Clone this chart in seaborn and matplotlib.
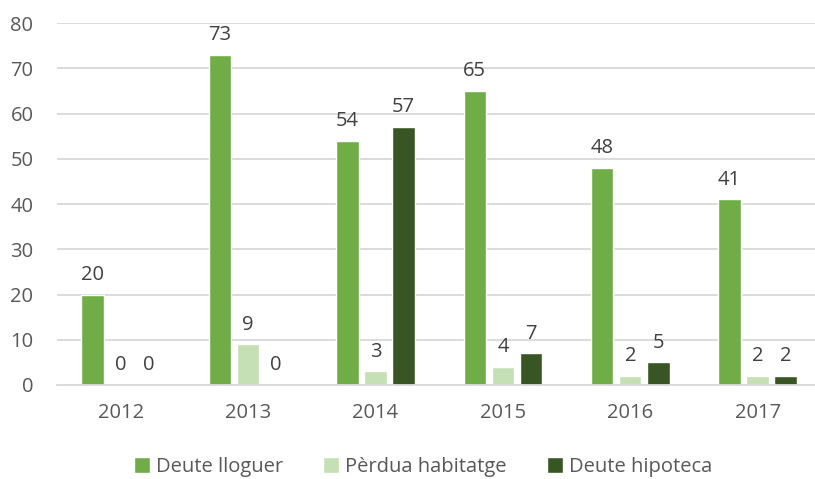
import matplotlib
matplotlib.use("Agg")
import matplotlib.pyplot as plt
import seaborn as sns
import pandas as pd

years = ["2012", "2013", "2014", "2015", "2016", "2017"]
series_names = ["Deute lloguer", "Pèrdua habitatge", "Deute hipoteca"]
deute_lloguer = [20, 73, 54, 65, 48, 41]
perdua_habitatge = [0, 9, 3, 4, 2, 2]
deute_hipoteca = [0, 0, 57, 7, 5, 2]
colors = ["#70AD47", "#C5E0B4", "#375623"]

rows = []
for name, vals in zip(series_names, [deute_lloguer, perdua_habitatge, deute_hipoteca]):
    for y, v in zip(years, vals):
        rows.append({"Any": y, "Sèrie": name, "Valor": v})
df = pd.DataFrame(rows)

sns.set_theme(style="white")
plt.rcParams["font.family"] = ["Open Sans", "DejaVu Sans"]

fig = plt.figure(figsize=(8.15, 4.79), dpi=100)
ax = fig.add_axes([57 / 815, 94 / 479, 1 - 57 / 815, (385 - 23) / 479])

sns.barplot(data=df, x="Any", y="Valor", hue="Sèrie", hue_order=series_names,
            order=years, palette=colors, width=0.66, gap=0.2, ax=ax,
            saturation=1, errorbar=None, legend=True)

for cont in ax.containers:
    ax.bar_label(cont, labels=[f"{int(v)}" for v in cont.datavalues],
                 padding=7, fontsize=14.5, color="#404040")

ax.set_ylim(0, 80)
ax.set_xlim(-0.5, 5.45)
ax.set_yticks(range(0, 81, 10))
ax.yaxis.grid(True, color="#d9d9d9", linewidth=1.3)
ax.set_axisbelow(True)
for s in ["top", "right", "left"]:
    ax.spines[s].set_visible(False)
ax.spines["bottom"].set_color("#d9d9d9")
ax.spines["bottom"].set_linewidth(1.3)
ax.tick_params(axis="both", length=0, labelsize=14.5, colors="#595959")
ax.tick_params(axis="x", pad=13)
ax.tick_params(axis="y", pad=17)
ax.set_xlabel("")
ax.set_ylabel("")

handles, labels = ax.get_legend_handles_labels()
ax.legend(handles, labels, loc="center", bbox_to_anchor=(0.483, (479 - 467 - 94) / 362),
          ncol=3, frameon=False, fontsize=14.5, handlelength=0.8, handleheight=0.8,
          columnspacing=2.0, handletextpad=0.3, labelcolor="#595959",
          bbox_transform=ax.transAxes)

fig.savefig("out.png", dpi=100)
